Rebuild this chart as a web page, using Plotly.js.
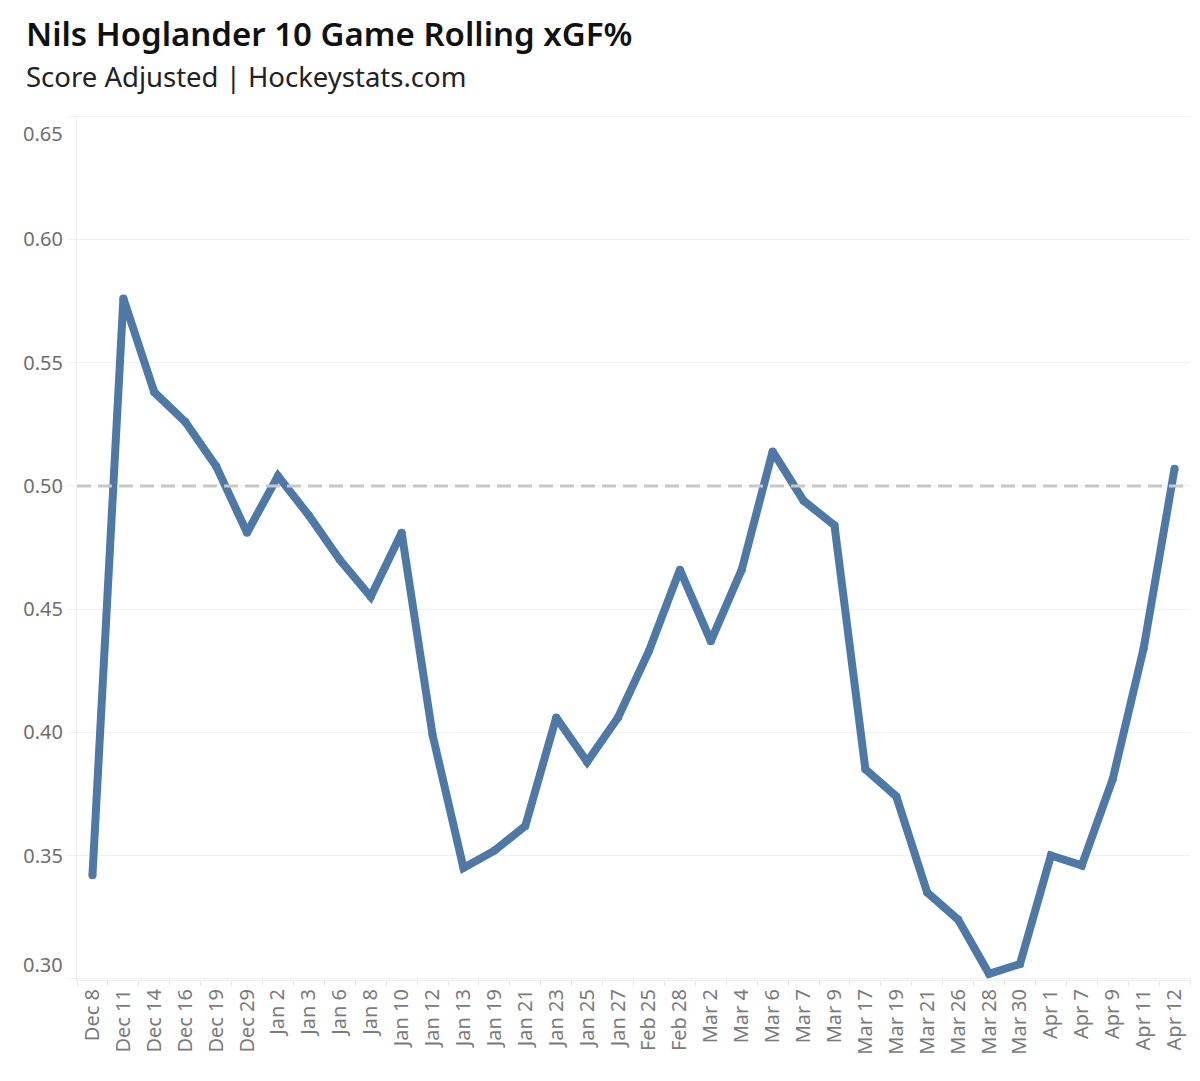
<!DOCTYPE html>
<html>
<head>
<meta charset="utf-8">
<script src="https://cdn.plot.ly/plotly-3.0.1.min.js"></script>
<style>
  html, body { margin: 0; padding: 0; background: #ffffff; }
  #chart { width: 1200px; height: 1081px; }
</style>
</head>
<body>
<div id="chart"></div>
<script>
// Game dates (x categories)
const gameDates = [
  "Dec 8", "Dec 11", "Dec 14", "Dec 16", "Dec 19", "Dec 29",
  "Jan 2", "Jan 3", "Jan 6", "Jan 8", "Jan 10", "Jan 12", "Jan 13",
  "Jan 19", "Jan 21", "Jan 23", "Jan 25", "Jan 27",
  "Feb 25", "Feb 28",
  "Mar 2", "Mar 4", "Mar 6", "Mar 7", "Mar 9", "Mar 17", "Mar 19",
  "Mar 21", "Mar 26", "Mar 28", "Mar 30",
  "Apr 1", "Apr 7", "Apr 9", "Apr 11", "Apr 12"
];

// 10 game rolling expected goals for share, score adjusted
const rollingXgf = [
  0.342, 0.576, 0.538, 0.526, 0.508, 0.481,
  0.504, 0.488, 0.470, 0.455, 0.481, 0.399, 0.345,
  0.352, 0.362, 0.406, 0.388, 0.406,
  0.433, 0.466,
  0.437, 0.466, 0.514, 0.494, 0.484, 0.385, 0.374,
  0.335, 0.324, 0.302, 0.306,
  0.350, 0.346, 0.381, 0.434, 0.507
];

// Break-even reference level
const breakEven = 0.5;

const yTicks = [0.30, 0.35, 0.40, 0.45, 0.50, 0.55, 0.60, 0.65];

const fontFamily = "'Noto Sans', 'Open Sans', sans-serif";
const lineBlue = "#4e79a7";
const tickGray = "#6e6e6e";
const yMin = 0.2995, yMax = 0.6505;

// Inner tick labels are drawn by the axis; the two at the ends sit just
// inside the plot edges, so they are placed as annotations.
const edgeTicks = [yTicks[0], yTicks[yTicks.length - 1]];
const tickText = yTicks.map(v => edgeTicks.includes(v) ? "" : v.toFixed(2));
const edgeLabels = edgeTicks.map(v => ({
  text: v.toFixed(2),
  xref: "paper",
  yref: "y",
  x: 0,
  y: v,
  xanchor: "right",
  yanchor: "middle",
  xshift: -12,
  yshift: v > 0.6 ? -17 : 14,
  showarrow: false,
  font: { family: fontFamily, size: 20, color: tickGray }
}));

const traces = [
  // Dashed break-even line across the full plot width (drawn first, under the series)
  {
    type: "scatter",
    mode: "lines",
    x: [0, 1],
    y: [breakEven, breakEven],
    xaxis: "x2",
    yaxis: "y",
    line: { color: "#c8c8c8", width: 3, dash: "14px,7px" },
    hoverinfo: "skip",
    showlegend: false
  },
  // Rolling xGF% line; round dots at each vertex give rounded joins and caps
  {
    type: "scatter",
    mode: "lines+markers",
    x: gameDates,
    y: rollingXgf,
    line: { color: lineBlue, width: 8, shape: "linear" },
    marker: { color: lineBlue, size: 8, line: { width: 0 } },
    hoverinfo: "x+y",
    showlegend: false
  }
];

const layout = {
  width: 1200,
  height: 1081,
  paper_bgcolor: "#ffffff",
  plot_bgcolor: "#ffffff",
  margin: { l: 77, r: 10, t: 115, b: 101 },
  showlegend: false,
  title: {
    text: "Nils Hoglander 10 Game Rolling xGF%",
    font: { family: fontFamily, size: 33, color: "#111111", weight: 600 },
    x: 26 / 1200,
    xanchor: "left",
    xref: "container",
    y: 1 - 34 / 1081,
    yanchor: "middle",
    yref: "container"
  },
  annotations: [
    {
      text: "Score Adjusted | Hockeystats.com",
      xref: "paper",
      yref: "paper",
      x: -53 / 1113,
      y: 1 + 39 / 865,
      xanchor: "left",
      yanchor: "middle",
      showarrow: false,
      font: { family: fontFamily, size: 27.5, color: "#222222" }
    },
    ...edgeLabels
  ],
  xaxis: {
    type: "category",
    range: [-0.5, gameDates.length - 0.5],
    tickangle: -90,
    tickfont: { family: fontFamily, size: 20, color: "#7a7a7a" },
    showgrid: false,
    showline: true,
    linecolor: "#ececec",
    linewidth: 1,
    ticks: "outside",
    tickson: "boundaries",
    ticklen: 5,
    tickcolor: "#e6e6e6",
    fixedrange: true,
    automargin: false
  },
  xaxis2: {
    overlaying: "x",
    range: [0, 1],
    visible: false,
    fixedrange: true
  },
  yaxis: {
    range: [yMin, yMax],
    tickvals: yTicks,
    ticktext: tickText,
    tickfont: { family: fontFamily, size: 20, color: tickGray },
    showgrid: true,
    gridcolor: "#f0f0f0",
    gridwidth: 1,
    zeroline: false,
    showline: true,
    linecolor: "#f2f2f2",
    ticks: "outside",
    ticklen: 9,
    tickcolor: "#f0f0f0",
    fixedrange: true,
    automargin: false
  }
};

Plotly.newPlot("chart", traces, layout, { displayModeBar: false, staticPlot: true });
</script>
</body>
</html>
